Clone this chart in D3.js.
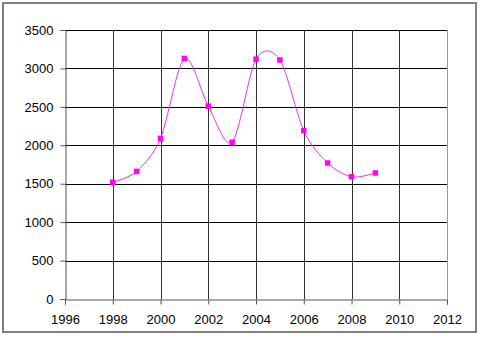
<!DOCTYPE html>
<html>
<head>
<meta charset="utf-8">
<script src="https://cdn.jsdelivr.net/npm/d3@7"></script>
<style>
  body { margin: 0; background: #fff; }
  svg { display: block; }
  text { font-family: "Liberation Sans", Arial, sans-serif; font-size: 13px; fill: #000; }
</style>
</head>
<body>
<svg id="chart" width="481" height="340"></svg>
<script>
// data
var years = [1998, 1999, 2000, 2001, 2002, 2003, 2004, 2005, 2006, 2007, 2008, 2009];
var values = [1520, 1660, 2090, 3130, 2510, 2040, 3120, 3110, 2190, 1770, 1590, 1640];
var xTicks = [1996, 1998, 2000, 2002, 2004, 2006, 2008, 2010, 2012];
var yTicks = [0, 500, 1000, 1500, 2000, 2500, 3000, 3500];

var svg = d3.select('#chart');

// outer frame
svg.append('rect')
    .attr('x', 3).attr('y', 3)
    .attr('width', 473).attr('height', 329)
    .attr('fill', '#fff')
    .attr('stroke', '#808080')
    .attr('stroke-width', 2);

var x = d3.scaleLinear().domain([1996, 2012]).range([65, 447]);
var y = d3.scaleLinear().domain([0, 3500]).range([299, 30]);

var g = svg.append('g');

// horizontal gridlines
g.selectAll('.hgrid')
    .data(yTicks.slice(1))
    .enter().append('line')
    .attr('x1', x(1996)).attr('x2', x(2012))
    .attr('y1', function(d){ return Math.round(y(d)) + 0.5; })
    .attr('y2', function(d){ return Math.round(y(d)) + 0.5; })
    .attr('stroke', '#000');

// vertical gridlines
g.selectAll('.vgrid')
    .data(xTicks.slice(1))
    .enter().append('line')
    .attr('x1', function(d){ return Math.round(x(d)) + 0.5; })
    .attr('x2', function(d){ return Math.round(x(d)) + 0.5; })
    .attr('y1', y(3500)).attr('y2', y(0))
    .attr('stroke', function(d){ return d == 2012 ? '#999' : '#333'; });

// axes
var yAxis = d3.axisLeft(y).tickValues(yTicks).tickSize(5).tickPadding(7).tickFormat(d3.format('d'));
var xAxis = d3.axisBottom(x).tickValues(xTicks).tickSize(5).tickPadding(10).tickFormat(d3.format('d'));

var ya = svg.append('g')
    .attr('transform', 'translate(' + (Math.round(x(1996)) + 0.5) + ',0)')
    .call(yAxis);
var xa = svg.append('g')
    .attr('transform', 'translate(0,' + (Math.round(y(0)) + 0.5) + ')')
    .call(xAxis);

[ya, xa].forEach(function(a){
    a.select('.domain').attr('stroke', '#555');
    a.selectAll('.tick line').attr('stroke', '#555');
    a.attr('font-size', null).attr('font-family', null);
});

// smoothed series
var line = d3.line()
    .x(function(d, i){ return x(years[i]); })
    .y(function(d){ return y(d); })
    .curve(d3.curveCardinal.tension(0.1));

svg.append('path')
    .datum(values)
    .attr('d', line)
    .attr('fill', 'none')
    .attr('stroke', '#f030f0')
    .attr('stroke-width', 1);

svg.selectAll('.pt')
    .data(values)
    .enter().append('rect')
    .attr('x', function(d, i){ return x(years[i]) - 2.75; })
    .attr('y', function(d){ return y(d) - 2.75; })
    .attr('width', 5.5).attr('height', 5.5)
    .attr('fill', '#ff00ff');
</script>
</body>
</html>
